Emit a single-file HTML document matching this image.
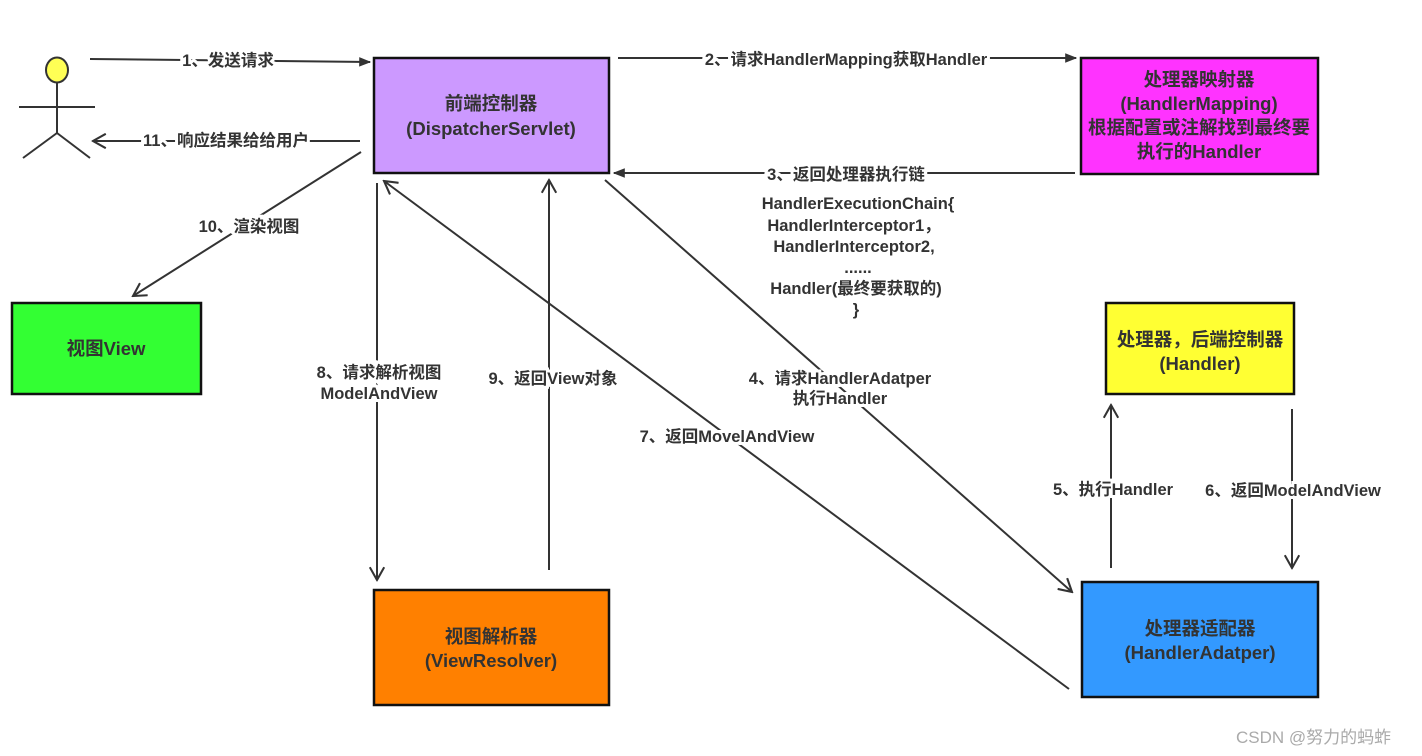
<!DOCTYPE html>
<html><head><meta charset="utf-8"><style>
html,body{margin:0;padding:0;background:#fff;}
svg{display:block;}
text{font-family:"Liberation Sans","Noto Sans CJK SC",sans-serif;font-weight:bold;fill:#333;font-size:16.5px;}
.l{stroke:#333;stroke-width:2;fill:none;}
.b{stroke:#111;stroke-width:2.5;}
.w{paint-order:stroke;stroke:#fff;stroke-width:6px;}
.t{font-size:18.5px;}
</style></head><body>
<svg width="1422" height="756" viewBox="0 0 1422 756">
<defs>
<marker id="f" viewBox="0 0 10 10" refX="9" refY="5" markerWidth="6" markerHeight="6" orient="auto"><path d="M0,1 L10,5 L0,9 z" fill="#333"/></marker>
<marker id="o" viewBox="0 0 10 10" refX="9" refY="5" markerWidth="8" markerHeight="8" orient="auto"><path d="M1,0.5 L9,5 L1,9.5" fill="none" stroke="#333" stroke-width="1.3"/></marker>
</defs>
<ellipse cx="57" cy="70" rx="11" ry="12.5" fill="#ffff55" stroke="#333" stroke-width="2"/>
<line class="l" x1="57" y1="83" x2="57" y2="133"/>
<line class="l" x1="19" y1="107" x2="95" y2="107"/>
<line class="l" x1="57" y1="133" x2="23" y2="158"/>
<line class="l" x1="57" y1="133" x2="90" y2="158"/>
<rect class="b" x="374" y="58" width="235" height="115" fill="#cc99ff"/>
<rect class="b" x="1081" y="58" width="237" height="116" fill="#ff33ff"/>
<rect class="b" x="12" y="303" width="189" height="91" fill="#33ff33"/>
<rect class="b" x="1106" y="303" width="188" height="91" fill="#ffff33"/>
<rect class="b" x="374" y="590" width="235" height="115" fill="#ff8000"/>
<rect class="b" x="1082" y="582" width="236" height="115" fill="#3399ff"/>
<g text-anchor="middle">
<text class="t" x="491" y="110">前端控制器</text>
<text class="t" x="491" y="135">(DispatcherServlet)</text>
<text class="t" x="1199" y="86">处理器映射器</text>
<text class="t" x="1199" y="110">(HandlerMapping)</text>
<text class="t" x="1199" y="134">根据配置或注解找到最终要</text>
<text class="t" x="1199" y="158">执行的Handler</text>
<text class="t" x="106" y="355">视图View</text>
<text class="t" x="1200" y="346">处理器，后端控制器</text>
<text class="t" x="1200" y="370">(Handler)</text>
<text class="t" x="491" y="643">视图解析器</text>
<text class="t" x="491" y="667">(ViewResolver)</text>
<text class="t" x="1200" y="635">处理器适配器</text>
<text class="t" x="1200" y="659">(HandlerAdatper)</text>
</g>
<line class="l" x1="90" y1="59" x2="370" y2="62" marker-end="url(#f)"/>
<line class="l" x1="360" y1="141" x2="93" y2="141" marker-end="url(#o)"/>
<line class="l" x1="618" y1="58" x2="1076" y2="58" marker-end="url(#f)"/>
<line class="l" x1="1075" y1="173" x2="614" y2="173" marker-end="url(#f)"/>
<line class="l" x1="361" y1="152" x2="133" y2="296" marker-end="url(#o)"/>
<line class="l" x1="377" y1="183" x2="377" y2="580" marker-end="url(#o)"/>
<line class="l" x1="549" y1="570" x2="549" y2="180" marker-end="url(#o)"/>
<line class="l" x1="1069" y1="689" x2="384" y2="181" marker-end="url(#o)"/>
<line class="l" x1="605" y1="180" x2="1072" y2="592" marker-end="url(#o)"/>
<line class="l" x1="1111" y1="568" x2="1111" y2="405" marker-end="url(#o)"/>
<line class="l" x1="1292" y1="409" x2="1292" y2="568" marker-end="url(#o)"/>
<g text-anchor="middle">
<text class="w" x="228" y="66">1、发送请求</text>
<text class="w" x="226" y="146">11、响应结果给给用户</text>
<text class="w" x="846" y="65">2、请求HandlerMapping获取Handler</text>
<text class="w" x="846" y="180">3、返回处理器执行链</text>
<text x="858" y="209">HandlerExecutionChain{</text>
<text x="854" y="231">HandlerInterceptor1，</text>
<text x="854" y="252">HandlerInterceptor2,</text>
<text x="858" y="273">......</text>
<text x="856" y="294">Handler(最终要获取的)</text>
<text x="856" y="315">}</text>
<text class="w" x="249" y="232">10、渲染视图</text>
<text class="w" x="379" y="378">8、请求解析视图</text>
<text class="w" x="379" y="399">ModelAndView</text>
<text class="w" x="553" y="384">9、返回View对象</text>
<text class="w" x="727" y="442">7、返回MovelAndView</text>
<text class="w" x="840" y="384">4、请求HandlerAdatper</text>
<text class="w" x="840" y="404">执行Handler</text>
<text class="w" x="1113" y="495">5、执行Handler</text>
<text class="w" x="1293" y="496">6、返回ModelAndView</text>
</g>
<text x="1236" y="743" style="font-weight:normal;fill:#aaa;font-size:17px">CSDN @努力的蚂蚱</text>
</svg>
</body></html>
